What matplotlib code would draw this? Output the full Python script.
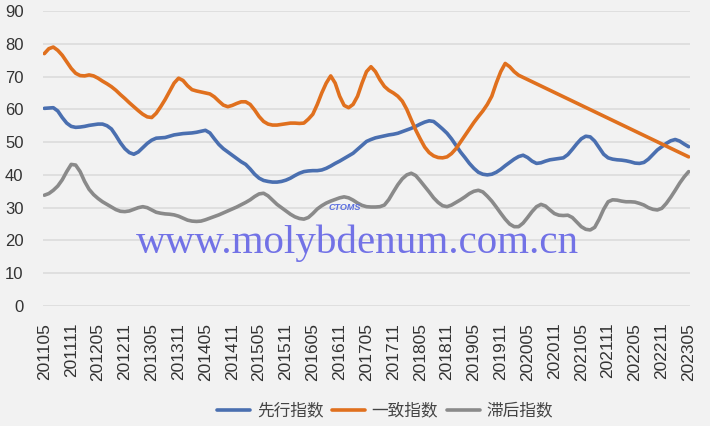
import matplotlib
matplotlib.use("Agg")
import matplotlib.pyplot as plt
import numpy as np

# ---------------- data ----------------
start_year, start_month = 2011, 5
n_months = 145
months = []
y, m = start_year, start_month
for _ in range(n_months):
    months.append(f"{y}{m:02d}")
    m += 1
    if m > 12:
        m = 1
        y += 1
tick_labels = months[::6]

series_names = ["先行指数", "一致指数", "滞后指数"]

leading = [
    60.3, 60.4, 60.5, 59.5, 57.5, 55.8, 54.8, 54.5, 54.6, 54.8, 55.1, 55.3,
    55.5, 55.5, 55.0, 54.0, 52.0, 49.8, 48.0, 46.8, 46.3, 47.0, 48.3, 49.6,
    50.6, 51.2, 51.3, 51.4, 51.8, 52.2, 52.4, 52.6, 52.7, 52.8, 53.0, 53.3,
    53.6, 52.8, 51.0, 49.3, 48.0, 47.0, 46.0, 45.0, 44.0, 43.2, 41.8, 40.2,
    39.0, 38.3, 38.0, 37.8, 37.8, 38.0, 38.4, 39.0, 39.8, 40.5, 41.0, 41.2,
    41.3, 41.3, 41.5, 42.0, 42.7, 43.5, 44.2, 45.0, 45.8, 46.6, 47.8, 49.0,
    50.2, 50.8, 51.3, 51.6, 51.9, 52.2, 52.4, 52.7, 53.2, 53.7, 54.2, 54.8,
    55.5, 56.1, 56.5, 56.3, 55.2, 54.0, 52.7, 51.0, 49.0, 47.0, 45.3, 43.5,
    42.0, 40.8, 40.2, 40.0, 40.2, 40.8, 41.7, 42.8, 43.8, 44.8, 45.6, 46.0,
    45.3, 44.2, 43.5, 43.7, 44.2, 44.6, 44.8, 45.0, 45.2, 46.2, 47.8, 49.5,
    51.0, 51.8, 51.6, 50.3, 48.3, 46.3, 45.2, 44.8, 44.6, 44.5, 44.3, 44.0,
    43.6, 43.5, 43.8, 44.8, 46.2, 47.6, 48.6, 49.6, 50.4, 50.8, 50.3, 49.4,
    48.6,
]

coincident = [
    77.0, 78.5, 79.0, 78.0, 76.5, 74.5, 72.5, 71.0, 70.3, 70.2, 70.5, 70.2,
    69.5, 68.6, 67.8, 66.9, 65.8, 64.5, 63.3, 62.0, 60.8, 59.6, 58.5, 57.7,
    57.5, 58.8, 60.8, 63.0, 65.5, 68.0, 69.5, 68.8, 67.2, 66.0, 65.6, 65.3,
    65.0, 64.7, 63.8, 62.5, 61.3, 60.8, 61.2, 61.8, 62.3, 62.3, 61.5, 59.8,
    57.8, 56.3, 55.5, 55.2, 55.2, 55.4, 55.6, 55.8, 55.8, 55.7, 55.8, 57.0,
    58.5, 61.5, 65.0, 68.0, 70.2, 68.0, 64.0, 61.2, 60.5, 61.5, 64.0, 68.0,
    71.5, 73.0, 71.5, 69.0, 67.0, 65.8, 65.0, 64.0, 62.5, 60.0, 56.8, 53.7,
    51.0, 48.5, 46.8, 45.8, 45.3, 45.2, 45.5, 46.5, 48.0, 50.0, 52.0, 54.0,
    56.0, 57.8, 59.5, 61.5, 64.0, 68.0, 71.5, 74.0, 73.0, 71.5, 70.4,
] + [None] * 37 + [45.5]

lagging = [
    33.8, 34.3, 35.3, 36.6, 38.5, 41.0, 43.2, 43.0, 41.0, 38.0, 35.6, 34.0,
    32.8, 31.8, 31.0, 30.2, 29.4, 28.9, 28.8, 29.0, 29.5, 30.0, 30.3, 30.0,
    29.3, 28.6, 28.3, 28.1, 28.0, 27.8, 27.4, 26.8, 26.2, 25.9, 25.8, 25.9,
    26.3, 26.8, 27.3, 27.8, 28.4, 29.0, 29.6, 30.2, 30.9, 31.6, 32.4, 33.4,
    34.2, 34.4, 33.6, 32.3, 31.0, 30.0, 29.0, 28.0, 27.2, 26.7, 26.5, 27.0,
    28.2, 29.6, 30.6, 31.4, 32.0, 32.5, 33.0, 33.3, 33.0, 32.3, 31.4, 30.7,
    30.3, 30.2, 30.2, 30.3, 30.8, 32.5, 34.8, 37.0, 38.8, 40.0, 40.5, 39.8,
    38.2, 36.5, 34.8, 33.0, 31.6, 30.6, 30.3, 30.8, 31.6, 32.4, 33.3, 34.3,
    35.0, 35.3, 34.8, 33.5, 32.0, 30.2, 28.3, 26.5, 25.0, 24.2, 24.2, 25.3,
    27.0, 28.8, 30.3, 31.0, 30.5, 29.3, 28.2, 27.7, 27.6, 27.7, 27.0, 25.6,
    24.2, 23.4, 23.2, 24.0, 26.5, 29.5, 31.8, 32.4, 32.3, 32.0, 31.8, 31.8,
    31.7, 31.3, 30.8, 30.0, 29.5, 29.3, 29.8, 31.3, 33.2, 35.3, 37.5, 39.4,
    41.0,
]

y_ticks = [0, 10, 20, 30, 40, 50, 60, 70, 80, 90]

# ---------------- style ----------------
bg = "#f2f2f2"
colors = ["#4a6fb0", "#e0701e", "#8a8a8a"]

plt.rcParams["font.family"] = ["Liberation Sans", "Noto Sans CJK SC", "DejaVu Sans"]

fig = plt.figure(figsize=(7.10, 4.26), dpi=100, facecolor=bg)
ax = fig.add_axes([43 / 710, 1 - 306 / 426, (690 - 43) / 710, (306 - 11) / 426])
ax.set_facecolor(bg)

x_all = np.arange(n_months)
for name, vals, c in zip(series_names, [leading, coincident, lagging], colors):
    arr = np.array([np.nan if v is None else v for v in vals], dtype=float)
    ok = ~np.isnan(arr)
    ax.plot(x_all[ok], arr[ok], color=c, lw=2.6, label=name,
            solid_joinstyle="round", solid_capstyle="round", zorder=3)

ax.set_xlim(-0.3, n_months - 1 + 0.3)
ax.set_ylim(0, 90)
ax.set_yticks(y_ticks)
ax.set_yticklabels([str(v) for v in y_ticks], fontsize=12, color="#333333")
ax.set_xticks(x_all[::6])
ax.set_xticklabels(tick_labels, rotation=90, fontsize=12.5, color="#333333")
ax.tick_params(axis="both", length=0)
ax.tick_params(axis="y", pad=14)
ax.tick_params(axis="x", pad=12)
ax.grid(axis="y", color="#dcdcdc", lw=1.2, zorder=0)
for s in ax.spines.values():
    s.set_visible(False)

# watermark
fig.text(357 / 710, 1 - 243 / 426, "www.molybdenum.com.cn", ha="center", va="center",
         fontsize=29.5, family="Liberation Serif", color="#6b6be6", alpha=0.95, zorder=5)
fig.text(345 / 710, 1 - 208 / 426, "CTOMS", ha="center", va="center",
         fontsize=6.5, style="italic", weight="bold", color="#5a6ee0", zorder=5)

leg = fig.legend(loc="center", bbox_to_anchor=(385 / 710, 1 - 411 / 426), ncol=3,
                 frameon=False, fontsize=12, handlelength=2.0, columnspacing=0.5,
                 handletextpad=0.4, prop={"family": ["Noto Sans CJK SC"], "size": 12})
for t in leg.get_texts():
    t.set_color("#444444")

fig.savefig("out.png", dpi=100, facecolor=bg)
